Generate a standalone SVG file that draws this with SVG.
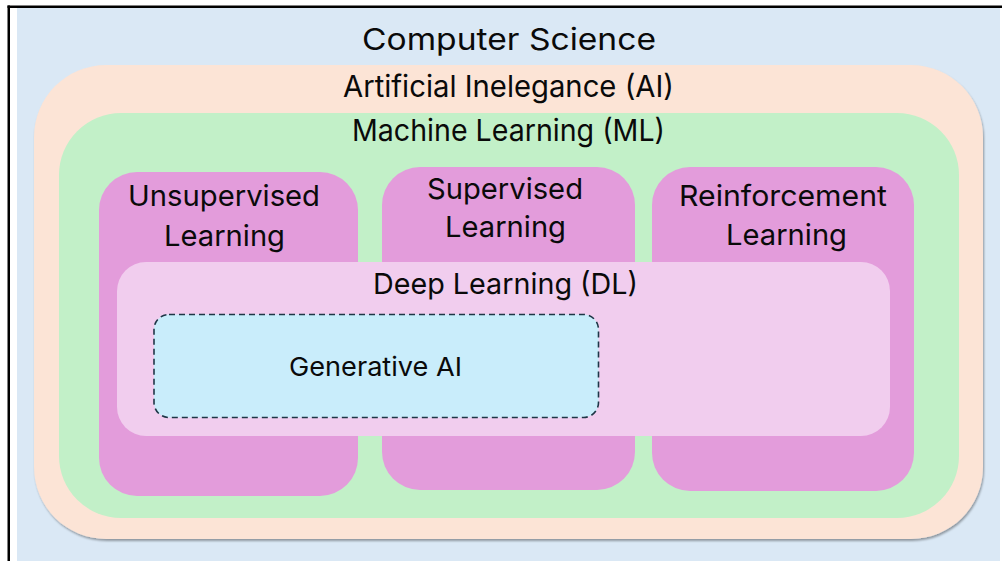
<svg xmlns="http://www.w3.org/2000/svg" width="1002" height="561" viewBox="0 0 1002 561">
<defs>
<filter id="shadow" x="-5%" y="-5%" width="110%" height="115%">
<feDropShadow dx="1" dy="2" stdDeviation="1.2" flood-color="#000" flood-opacity="0.35"/>
</filter>
<style>
text{font-family:Inter,"Liberation Sans",sans-serif;fill:#0a0a0a;text-anchor:start}
.big{font-size:30px}
.mid{font-size:29px}
.gen{font-size:26px}
.learn{fill:#E39CDB}
</style>
</defs>
<rect x="0" y="0" width="1002" height="561" fill="#ffffff"/>
<rect x="17" y="8" width="983" height="553" fill="#DAE8F5"/>
<rect x="7.5" y="5.5" width="994.5" height="2.5" fill="#000"/>
<rect x="7.5" y="5.5" width="2.5" height="555.5" fill="#000"/>
<g id="cs">
<text class="big" x="362" y="50" textLength="294" lengthAdjust="spacingAndGlyphs">Computer Science</text>
</g>
<g id="ai">
<rect x="34" y="65" width="949" height="474" rx="72" ry="72" fill="#FCE4D6" filter="url(#shadow)"/>
<text class="big" x="343" y="97" textLength="331" lengthAdjust="spacingAndGlyphs">Artificial Inelegance (AI)</text>
</g>
<g id="ml">
<rect x="59" y="113" width="900" height="405" rx="62" ry="62" fill="#C2F0C8"/>
<text class="big" x="352" y="141" textLength="313" lengthAdjust="spacingAndGlyphs">Machine Learning (ML)</text>
</g>
<g id="unsupervised">
<rect class="learn" x="99" y="172" width="259" height="324" rx="38" ry="38"/>
<text class="mid" x="128" y="206" textLength="192" lengthAdjust="spacingAndGlyphs">Unsupervised</text>
<text class="mid" x="164" y="246" textLength="121" lengthAdjust="spacingAndGlyphs">Learning</text>
</g>
<g id="supervised">
<rect class="learn" x="382" y="167" width="253" height="323" rx="38" ry="38"/>
<text class="mid" x="427" y="199" textLength="156" lengthAdjust="spacingAndGlyphs">Supervised</text>
<text class="mid" x="445" y="237" textLength="121" lengthAdjust="spacingAndGlyphs">Learning</text>
</g>
<g id="reinforcement">
<rect class="learn" x="652" y="167" width="262" height="324" rx="38" ry="38"/>
<text class="mid" x="679" y="206" textLength="208" lengthAdjust="spacingAndGlyphs">Reinforcement</text>
<text class="mid" x="726" y="245" textLength="121" lengthAdjust="spacingAndGlyphs">Learning</text>
</g>
<g id="dl">
<rect x="117" y="262" width="773" height="174" rx="29" ry="29" fill="#F1CDEE"/>
<text class="mid" x="373" y="294" textLength="265" lengthAdjust="spacingAndGlyphs">Deep Learning (DL)</text>
</g>
<g id="genai">
<rect x="154" y="314.5" width="444.5" height="103" rx="15" ry="15" fill="#C9EDFB" stroke="#1E3646" stroke-width="1.6" stroke-dasharray="6 4"/>
<text class="gen" x="289" y="376" textLength="173" lengthAdjust="spacingAndGlyphs">Generative AI</text>
</g>
<g id="connectors"></g>
</svg>
